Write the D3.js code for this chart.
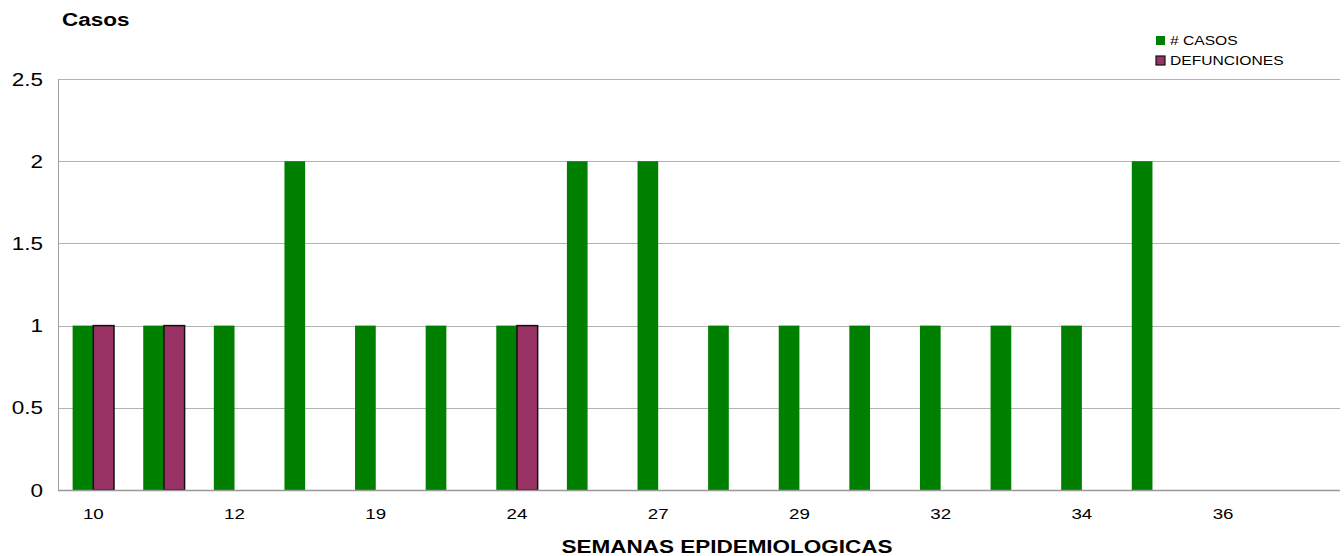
<!DOCTYPE html>
<html>
<head>
<meta charset="utf-8">
<script src="https://cdn.jsdelivr.net/npm/d3@7/dist/d3.min.js"></script>
<style>
  html, body { margin: 0; padding: 0; background: #fff; }
  svg { display: block; font-family: "Liberation Sans", Arial, sans-serif; }
</style>
</head>
<body>
<svg id="chart" width="1344" height="556"></svg>
<script>
// ---- data ----
const weeks = ["10", "11", "12", "16", "19", "21", "24", "25", "27", "28", "29", "30", "32", "33", "34", "35", "36", "37"];
const casos = [1, 1, 1, 2, 1, 1, 1, 2, 2, 1, 1, 1, 1, 1, 1, 2, 0, 0];
const defunciones = [1, 1, 0, 0, 0, 0, 1, 0, 0, 0, 0, 0, 0, 0, 0, 0, 0, 0];
const seriesNames = ["# CASOS", "DEFUNCIONES"];
const seriesColors = ["#008000", "#993366"];
const yTicks = [0, 0.5, 1, 1.5, 2, 2.5];

(function () {
const svg = d3.select("#chart");
const SX = 1.25; // horizontal stretch of text as in the reference

const pLeft = 58, pRight = 1329, gridRight = 1340, pTop = 79, pBottom = 490;

const x = d3.scaleBand().domain(weeks).range([pLeft, pRight]).paddingInner(0).paddingOuter(0);
const xs = d3.scaleBand().domain(seriesNames).range([x.bandwidth() * 0.207, x.bandwidth() * 0.793]);
const y = d3.scaleLinear().domain([0, 2.5]).range([pBottom, pTop]);

function stretchedText(g, tx, ty, str, opts) {
  return g.append("text")
    .attr("transform", `translate(${tx},${ty}) scale(${SX},1)`)
    .attr("x", 0).attr("y", 0)
    .attr("font-size", opts.size)
    .attr("font-weight", opts.weight || "normal")
    .attr("text-anchor", opts.anchor || "start")
    .attr("fill", "#000")
    .text(str);
}

// gridlines
svg.append("g").selectAll("line").data(yTicks.filter(d => d > 0)).join("line")
  .attr("x1", pLeft).attr("x2", gridRight)
  .attr("y1", d => Math.round(y(d)) + 0.5).attr("y2", d => Math.round(y(d)) + 0.5)
  .attr("stroke", "#b3b3b3").attr("stroke-width", 1);

// bars
const series = [casos, defunciones];
const barG = svg.append("g");
series.forEach((vals, si) => {
  barG.selectAll(null).data(weeks.map((w, i) => ({ w, v: vals[i] })).filter(d => d.v > 0)).join("rect")
    .attr("x", d => x(d.w) + xs(seriesNames[si]))
    .attr("width", xs.bandwidth())
    .attr("y", d => y(d.v))
    .attr("height", d => y(0) - y(d.v))
    .attr("fill", seriesColors[si])
    .attr("stroke", si === 1 ? "#111" : "none")
    .attr("stroke-width", si === 1 ? 1.5 : 0);
});

// axes lines
svg.append("line").attr("x1", pLeft + 0.5).attr("x2", pLeft + 0.5).attr("y1", pTop).attr("y2", pBottom)
  .attr("stroke", "#a0a0a0").attr("stroke-width", 1);
svg.append("line").attr("x1", pLeft).attr("x2", gridRight).attr("y1", pBottom + 0.5).attr("y2", pBottom + 0.5)
  .attr("stroke", "#999").attr("stroke-width", 1.5);

// y tick labels
const yl = svg.append("g");
yTicks.forEach(t => {
  stretchedText(yl, 43, y(t) + 6.5, d3.format("")(t), { size: 18, anchor: "end" });
});

// x tick labels (every other category)
const xl = svg.append("g");
weeks.forEach((w, i) => {
  if (i % 2 === 0) stretchedText(xl, x(w) + x.bandwidth() / 2, 519, w, { size: 15, anchor: "middle" });
});

// titles
stretchedText(svg, 62, 26, "Casos", { size: 18, weight: "bold" });
stretchedText(svg, 727, 553, "SEMANAS EPIDEMIOLOGICAS", { size: 18, weight: "bold", anchor: "middle" });

// legend
const lg = svg.append("g");
seriesNames.forEach((n, i) => {
  const yy = 36 + i * 20;
  lg.append("rect").attr("x", 1156).attr("y", yy).attr("width", 9).attr("height", 9)
    .attr("fill", seriesColors[i])
    .attr("stroke", i === 1 ? "#111" : "none").attr("stroke-width", i === 1 ? 1.2 : 0);
  stretchedText(lg, 1170, yy + 9, n, { size: 12.5 });
});
})();
</script>
</body>
</html>
